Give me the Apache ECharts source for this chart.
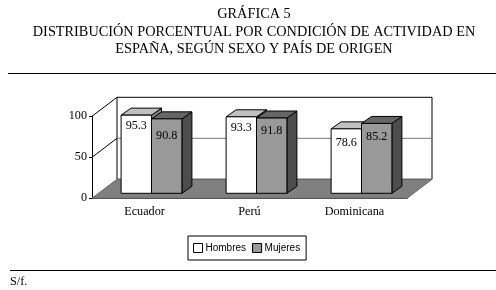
<!DOCTYPE html>
<html><head><meta charset="utf-8">
<style>html,body{margin:0;padding:0;background:#fff}#c{width:496px;height:290px}</style>
<script src="https://cdn.jsdelivr.net/npm/echarts@6/dist/echarts.min.js"></script>
</head><body><div id="c"></div>
<script>
const titleLines = ['GRÁFICA 5','DISTRIBUCIÓN PORCENTUAL POR CONDICIÓN DE ACTIVIDAD EN','ESPAÑA, SEGÚN SEXO Y PAÍS DE ORIGEN'];
const categories = ['Ecuador','Perú','Dominicana'];
const hombres = [95.3,93.3,78.6];
const mujeres = [90.8,91.8,85.2];
const yTicks = [0,50,100];
const note = 'S/f.';

const serif = '"Liberation Serif","Times New Roman",serif';
const sans = '"Liberation Sans",Arial,sans-serif';
const WALL = {dx:25, dy:-19};
const BAR = {dx:10, dy:-7, lift:5, shift:7, w:30.4};
const LABEL_DROP = {Hombres:[11,11,13.5], Mujeres:[16.5,13,13]};

function wallItem(params, api){
  const c = params.coordSys, L=c.x, R=c.x+c.width, B=c.y+c.height;
  const ln=(x1,y1,x2,y2,col)=>({type:'line',shape:{x1,y1,x2,y2},style:{stroke:col||'#000',lineWidth:1}});
  const kids=[
    {type:'polygon',shape:{points:[[L+WALL.dx,c.y+WALL.dy],[R+WALL.dx,c.y+WALL.dy],[R+WALL.dx,B+WALL.dy],[L+WALL.dx,B+WALL.dy]]},style:{fill:'#fff',stroke:'#000',lineWidth:1}},
    {type:'polygon',shape:{points:[[L,B],[L+WALL.dx,B+WALL.dy],[R+WALL.dx,B+WALL.dy],[R,B]]},style:{fill:'#808080',stroke:'#666',lineWidth:1}}
  ];
  yTicks.forEach(t=>{
    const y=api.coord([0,t])[1];
    if(t>0){
      kids.push(ln(L,y,L+WALL.dx,y+WALL.dy,'#000'));
      if(t<100) kids.push(ln(L+WALL.dx,y+WALL.dy,R+WALL.dx,y+WALL.dy,'#777'));
    }
  });
  return {type:'group',children:kids};
}
function barItem(name,idx,front,top,side){
  return function(params,api){
    const cat=api.value(0), v=api.value(1);
    const cx=api.coord([cat,0])[0]+BAR.shift;
    const x0=cx+(idx===0?-BAR.w:0), x1=x0+BAR.w;
    const yb=api.coord([cat,0])[1]-BAR.lift, yt=api.coord([cat,v])[1]-BAR.lift;
    const s={stroke:'#000',lineWidth:1};
    return {type:'group',children:[
      {type:'polygon',shape:{points:[[x1,yt],[x1+BAR.dx,yt+BAR.dy],[x1+BAR.dx,yb+BAR.dy],[x1,yb]]},style:{fill:side,...s}},
      {type:'polygon',shape:{points:[[x0,yt],[x0+BAR.dx,yt+BAR.dy],[x1+BAR.dx,yt+BAR.dy],[x1,yt]]},style:{fill:top,...s}},
      {type:'rect',shape:{x:x0,y:yt,width:BAR.w,height:yb-yt},style:{fill:front,...s}},
      {type:'text',style:{x:(x0+x1)/2,y:yt+LABEL_DROP[name][cat],text:v.toFixed(1),align:'center',verticalAlign:'middle',font:'12.2px '+serif,fill:'#000'}}
    ]};
  };
}
const chart=echarts.init(document.getElementById('c'),null,{renderer:'canvas'});
chart.setOption({
  animation:false,
  backgroundColor:'#fff',
  title:{text:titleLines.join('\n'),left:254,textAlign:'center',top:5.5,padding:0,itemGap:0,
    textStyle:{fontFamily:serif,fontSize:14.3,fontWeight:'normal',color:'#000',lineHeight:17.5}},
  legend:{left:188,top:236,orient:'horizontal',show:true,data:[
      {name:'Hombres',icon:'rect',itemStyle:{color:'#fff',borderColor:'#000',borderWidth:1}},
      {name:'Mujeres',icon:'rect',itemStyle:{color:'#999',borderColor:'#000',borderWidth:1}}],
    itemWidth:9,itemHeight:9,itemGap:6,padding:[7,6,7,5],borderColor:'#000',borderWidth:1,
    textStyle:{fontFamily:sans,fontSize:10,color:'#000',padding:[0,0,0,-2]}},
  grid:{left:92,top:116.3,width:315,height:82,containLabel:false},
  xAxis:{type:'category',data:categories,
    axisLine:{lineStyle:{color:'#000',width:1}},
    axisTick:{length:3,alignWithLabel:false,lineStyle:{color:'#000'}},
    axisLabel:{fontFamily:serif,fontSize:12.2,color:'#000',margin:8}},
  yAxis:{type:'value',min:0,max:100,interval:50,
    axisLine:{show:true,lineStyle:{color:'#000',width:1}},
    axisTick:{show:true,length:3,lineStyle:{color:'#000'}},
    splitLine:{show:false},
    axisLabel:{fontFamily:serif,fontSize:12.2,color:'#000',margin:5}},
  series:[
    {type:'custom',name:'_wall',silent:true,clip:false,z:1,data:[[0,0]],renderItem:wallItem,encode:{x:0,y:1}},
    {type:'custom',name:'Hombres',clip:false,z:2,itemStyle:{color:'#fff'},data:hombres.map((v,i)=>[i,v]),renderItem:barItem('Hombres',0,'#fff','#c0c0c0','#808080'),encode:{x:0,y:1}},
    {type:'custom',name:'Mujeres',clip:false,z:3,itemStyle:{color:'#999'},data:mujeres.map((v,i)=>[i,v]),renderItem:barItem('Mujeres',1,'#999','#666','#4d4d4d'),encode:{x:0,y:1}}
  ],
  graphic:[
    {type:'line',shape:{x1:8,y1:73.5,x2:496,y2:73.5},style:{stroke:'#000',lineWidth:1},silent:true},
    {type:'line',shape:{x1:10,y1:270.5,x2:496,y2:270.5},style:{stroke:'#000',lineWidth:1},silent:true},
    {type:'text',left:10,top:276,silent:true,style:{text:note,font:'12.2px '+serif,fill:'#000'}}
  ]
});
</script></body></html>
